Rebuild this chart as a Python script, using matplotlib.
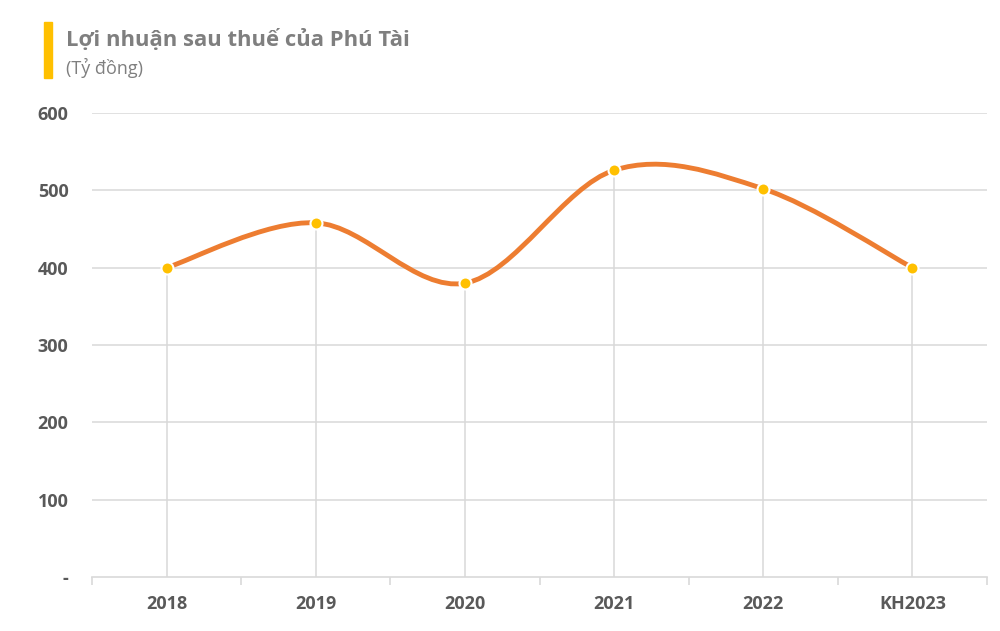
import matplotlib

matplotlib.use("Agg")
import matplotlib.pyplot as plt
from matplotlib.path import Path
from matplotlib.patches import PathPatch, Rectangle

ORANGE, YELLOW, GRID, TEXT, TITLE = "#ED7D31", "#FFC000", "#D9D9D9", "#595959", "#7F7F7F"

years = ["2018", "2019", "2020", "2021", "2022", "KH2023"]
profit = [400, 458, 380, 526, 502, 400]
yticks = [0, 100, 200, 300, 400, 500, 600]
ytick_labels = ["-", "100", "200", "300", "400", "500", "600"]

plt.rcParams["font.family"] = ["Open Sans", "DejaVu Sans"]


def smooth_path(xs, ys):
    # Excel-style smoothed line: cubic Bezier through each point
    pts = list(zip(xs, ys))
    verts, codes = [pts[0]], [Path.MOVETO]
    n = len(pts)
    for i in range(n - 1):
        p0 = pts[max(i - 1, 0)]
        p1, p2 = pts[i], pts[i + 1]
        p3 = pts[min(i + 2, n - 1)]
        c1 = (p1[0] + (p2[0] - p0[0]) / 6, p1[1] + (p2[1] - p0[1]) / 6)
        c2 = (p2[0] - (p3[0] - p1[0]) / 6, p2[1] - (p3[1] - p1[1]) / 6)
        verts += [c1, c2, p2]
        codes += [Path.CURVE4] * 3
    return Path(verts, codes)


fig = plt.figure(figsize=(10, 6.31), dpi=100)
ax = fig.add_axes([0.092, 0.0856, 0.895, 0.7353])

x = list(range(len(years)))
ax.set_xlim(-0.5, len(years) - 0.5)
ax.set_ylim(0, 600)

for v in yticks[1:]:
    ax.axhline(v, color=GRID, lw=1.1, zorder=0)
ax.vlines(x, 0, profit, color=GRID, lw=1.1, zorder=0)

ax.add_patch(PathPatch(smooth_path(x, profit), fill=False, edgecolor=ORANGE,
                       lw=3.5, capstyle="round", zorder=2))
ax.scatter(x, profit, s=75, color=YELLOW, edgecolor="white", linewidth=1.5, zorder=3)

for s in ["top", "right", "left"]:
    ax.spines[s].set_visible(False)
ax.spines["bottom"].set_color(GRID)
ax.spines["bottom"].set_linewidth(1.2)

ax.set_yticks(yticks, ytick_labels)
ax.tick_params(axis="y", length=0, pad=17, labelsize=13, labelcolor=TEXT)
ax.set_xticks([i - 0.5 for i in range(len(years) + 1)], [""] * (len(years) + 1))
ax.tick_params(axis="x", length=6, color=GRID, width=1.2)
ax.set_xticks(x, years, minor=True)
ax.tick_params(axis="x", which="minor", length=0, pad=13, labelsize=13, labelcolor=TEXT)
for lbl in ax.get_yticklabels() + ax.get_xticklabels(minor=True):
    lbl.set_fontweight("bold")

fig.patches.append(Rectangle((0.044, 1 - 78 / 631), 0.008, 56 / 631,
                             transform=fig.transFigure, color=YELLOW))
fig.text(0.066, 1 - 40 / 631, "Lợi nhuận sau thuế của Phú Tài", fontsize=15.8,
         fontweight="bold", color=TITLE, va="center")
fig.text(0.066, 1 - 68 / 631, "(Tỷ đồng)", fontsize=13, color=TITLE, va="center")

fig.savefig("out.png", dpi=100)
